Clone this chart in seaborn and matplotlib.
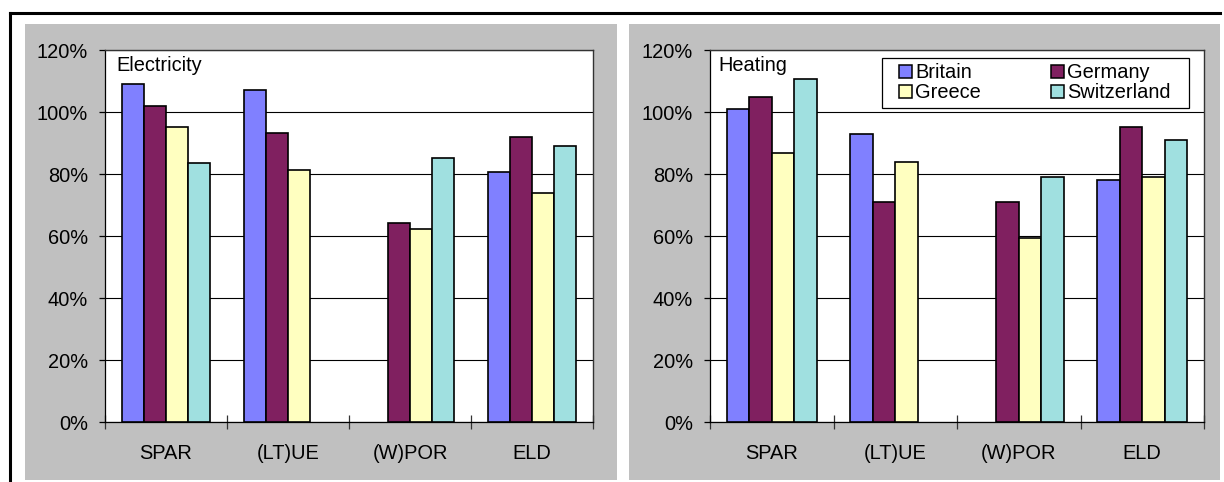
import numpy as np
import pandas as pd
import matplotlib
matplotlib.use("Agg")
import matplotlib.pyplot as plt
from matplotlib.patches import Rectangle, Patch
from matplotlib.lines import Line2D
from matplotlib.ticker import FixedLocator, FuncFormatter
import seaborn as sns

nan = np.nan
categories = ["SPAR", "(LT)UE", "(W)POR", "ELD"]
countries = ["Britain", "Germany", "Greece", "Switzerland"]
colors = ["#8080FF", "#802060", "#FFFFC0", "#A0E0E0"]

elec_britain = [109.0, 107.1, nan, 80.6]
elec_germany = [102.0, 93.1, 64.1, 91.9]
elec_greece = [95.3, 81.2, 62.3, 73.9]
elec_switzerland = [83.4, nan, 85.2, 89.0]

heat_britain = [101.1, 92.8, nan, 78.1]
heat_germany = [104.9, 70.9, 71.0, 95.2]
heat_greece = [86.8, 84.0, 59.3, 79.0]
heat_switzerland = [110.5, nan, 79.0, 91.0]

yticks = [0, 20, 40, 60, 80, 100, 120]


def long_df(series):
    rows = []
    for country, vals in zip(countries, series):
        for cat, v in zip(categories, vals):
            rows.append({"category": cat, "country": country, "value": v})
    return pd.DataFrame(rows).dropna()


df_elec = long_df([elec_britain, elec_germany, elec_greece, elec_switzerland])
df_heat = long_df([heat_britain, heat_germany, heat_greece, heat_switzerland])

plt.rcParams["font.family"] = ["Liberation Sans", "DejaVu Sans"]
FS = 14.4
GRAY = "#C0C0C0"

fig = plt.figure(figsize=(12.24, 4.82), dpi=100)
W, H = 1224.0, 482.0

# panel backgrounds
for x0, x1 in [(25, 617), (629, 1220)]:
    fig.patches.append(Rectangle((x0 / W, (H - 480) / H), (x1 - x0) / W, 456 / H,
                                 transform=fig.transFigure, facecolor=GRAY,
                                 edgecolor="none", zorder=-2))
# outer border (left and top)
fig.lines.append(Line2D([10 / W, 10 / W], [0, (H - 13) / H], transform=fig.transFigure,
                        color="black", lw=2.2, zorder=-1))
fig.lines.append(Line2D([10 / W, 1220 / W], [(H - 13) / H, (H - 13) / H],
                        transform=fig.transFigure, color="black", lw=2.2, zorder=-1))

ax1 = fig.add_axes([105 / W, (H - 422) / H, 488 / W, 372 / H])
ax2 = fig.add_axes([710 / W, (H - 422) / H, 494 / W, 372 / H])
ax1.set_zorder(2)
ax2.set_zorder(2)

for ax, df, title, tx in [(ax1, df_elec, "Electricity", 0.024),
                          (ax2, df_heat, "Heating", 0.017)]:
    sns.barplot(data=df, x="category", y="value", hue="country",
                order=categories, hue_order=countries, palette=colors,
                width=0.727, edgecolor="black", linewidth=1.2,
                saturation=1, legend=False, ax=ax, zorder=3)
    ax.set_facecolor("white")
    ax.set_xlim(-0.5, 3.5)
    ax.set_ylim(0, 120)
    ax.set_yticks(yticks)
    ax.yaxis.set_major_formatter(FuncFormatter(lambda v, p: f"{v:.0f}%"))
    ax.yaxis.grid(True, color="black", lw=0.8, zorder=0)
    ax.set_axisbelow(True)
    ax.set_xlabel("")
    ax.set_ylabel("")
    ax.set_xticks(range(len(categories)))
    ax.set_xticklabels(categories)
    ax.xaxis.set_minor_locator(FixedLocator([-0.5, 0.5, 1.5, 2.5, 3.5]))
    ax.tick_params(axis="x", which="major", length=0, pad=16.0, labelsize=FS)
    ax.tick_params(axis="x", which="minor", direction="inout", length=9.4,
                   width=0.9, color="#333333")
    ax.tick_params(axis="y", which="major", direction="out", length=4.3, width=0.9,
                   pad=7.9, labelsize=FS)
    for s in ["left", "bottom"]:
        ax.spines[s].set_color("black")
        ax.spines[s].set_linewidth(0.9)
    for s in ["top", "right"]:
        ax.spines[s].set_color("#333333")
        ax.spines[s].set_linewidth(1.0)
    ax.text(tx, 0.957, title, transform=ax.transAxes, fontsize=FS,
            ha="left", va="center", zorder=6)

# legend on the heating panel
ax2.add_patch(Rectangle((0.3476, 0.8433), 0.622, 0.1344, transform=ax2.transAxes,
                        facecolor="white", edgecolor="black", lw=0.9, zorder=4.5))
handles = [Patch(facecolor=c, edgecolor="black", lw=1.1) for c in colors]
order = [0, 2, 1, 3]
leg = ax2.legend([handles[i] for i in order], [countries[i] for i in order],
                 ncol=2, loc="center left", bbox_to_anchor=(0.3826, 0.9113),
                 frameon=False, fontsize=FS, borderpad=0, handlelength=0.65,
                 handleheight=0.65, handletextpad=0.15, columnspacing=3.5,
                 labelspacing=0.05, borderaxespad=0)
leg.set_zorder(6)

fig.savefig("out.png", dpi=100, facecolor="white")
